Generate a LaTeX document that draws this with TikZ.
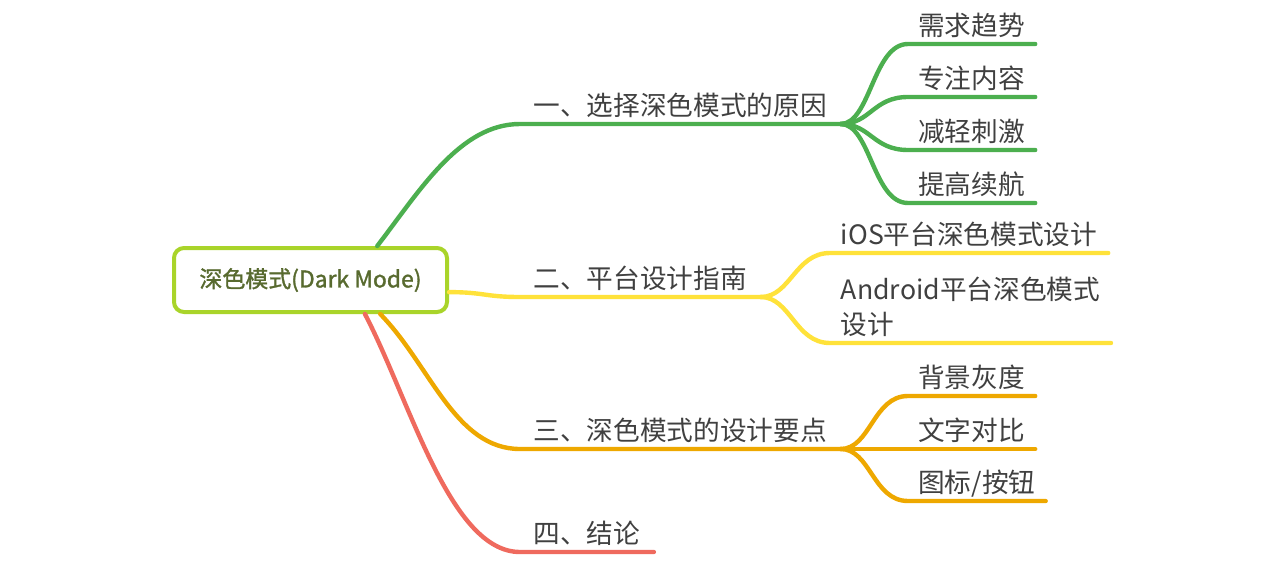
\documentclass[tikz,border=0pt]{standalone}
\usepackage{fontspec}
\setmainfont{Noto Sans CJK SC}
\newfontfamily\rootfont[FakeBold=1.4]{Noto Sans CJK SC}
\definecolor{rootline}{HTML}{A9D42A}
\definecolor{roottext}{HTML}{586A2F}
\definecolor{mmgreen}{HTML}{4CAF4F}
\definecolor{mmyellow}{HTML}{FFE23A}
\definecolor{mmorange}{HTML}{EEA800}
\definecolor{mmred}{HTML}{EF6A5E}
\definecolor{mmtext}{HTML}{404040}

\begin{document}
\begin{tikzpicture}[x=0.75pt, y=-0.75pt,
        topic/.style={anchor=south west, text=mmtext, font={\fontsize{20}{26.25}\selectfont},
            inner xsep=10pt, inner ysep=6.5pt, text depth=0pt},
        subtopic/.style={topic, inner xsep=7.5pt},
        branch/.style={line width=3.3pt, line cap=round}]
        \useasboundingbox (0,0) rectangle (1280,560);
        \node[draw=rootline, line width=3pt, rounded corners=7.5pt, minimum width=204.75pt,
            minimum height=48pt, text=roottext, font={\rootfont\fontsize{17.2}{20}\selectfont}]
            (root) at (310.5,280) {深色模式(Dark Mode)};

        % first branch
        \node[topic] (why) at (520,124) {一、选择深色模式的原因};
        \node[subtopic] (trend) at (908,44) {需求趋势};
        \node[subtopic] (focus) at (908,97) {专注内容};
        \node[subtopic] (strain) at (908,150) {减轻刺激};
        \node[subtopic] (battery) at (908,203) {提高续航};

        % second branch
        \node[topic] (guide) at (520,297) {二、平台设计指南};
        \node[topic, inner xsep=8pt] (ios) at (830,253) {iOS平台深色模式设计};
        \node[topic, inner xsep=8pt, align=left] (android) at (830,343) {Android平台深色模式\\设计};

        % third branch
        \node[topic] (points) at (520,449) {三、深色模式的设计要点};
        \node[subtopic] (gray) at (908,396) {背景灰度};
        \node[subtopic] (contrast) at (908,449) {文字对比};
        \node[subtopic] (icons) at (908,501) {图标/按钮};

        % fourth branch
        \node[topic] (sum) at (520,552) {四、结论};

        \draw[branch, mmgreen] (root.27) .. controls +(43,-56) and +(-60,0) .. (why.south west) -- (why.south east);
        \foreach \kid in {trend, focus, strain, battery}
            \draw[branch, mmgreen] (why.south east) .. controls +(30,0) and +(-35,0) .. (\kid.south west) -- (\kid.south east);

        \draw[branch, mmyellow] (root.-5.5) .. controls +(35,0) and +(-35,0) .. (guide.south west) -- (guide.south east);
        \foreach \kid in {ios, android}
            \draw[branch, mmyellow] (guide.south east) .. controls +(30,0) and +(-35,0) .. (\kid.south west) -- (\kid.south east);

        \draw[branch, mmorange] (root.-26) .. controls +(50,51) and +(-65,0) .. (points.south west) -- (points.south east);
        \foreach \kid in {gray, contrast, icons}
            \draw[branch, mmorange] (points.south east) .. controls +(30,0) and +(-35,0) .. (\kid.south west) -- (\kid.south east);

        \draw[branch, mmred] (root.-32) .. controls +(45,86) and +(-70,0) .. (sum.south west) -- (sum.south east);
    \end{tikzpicture}
\end{document}
